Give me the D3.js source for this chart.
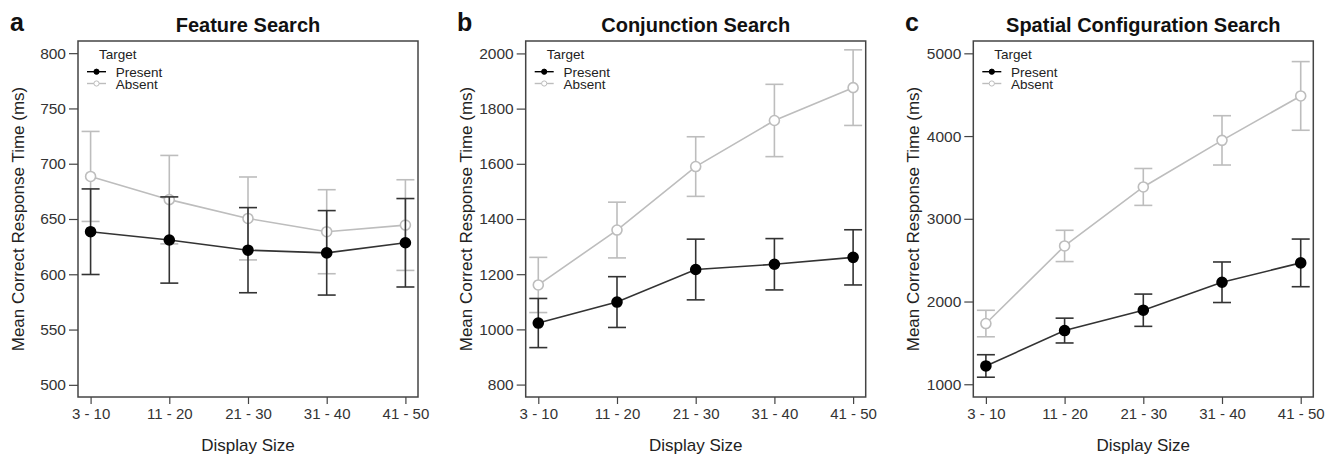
<!DOCTYPE html>
<html><head><meta charset="utf-8">
<script src="https://cdn.jsdelivr.net/npm/d3@7"></script>
<style>body{margin:0;background:#fff}svg{display:block;font-family:"Liberation Sans",Arial,sans-serif}</style>
</head><body><svg id="c" width="1336" height="454"></svg>
<script>
const categories = ["3 - 10","11 - 20","21 - 30","31 - 40","41 - 50"];
const panelLetters = ["a","b","c"];
const panelTitles = ["Feature Search","Conjunction Search","Spatial Configuration Search"];
const featurePresent = [638.5, 631, 621.8, 619.4, 628.5];
const featurePresentErr = [38.7, 39, 38.5, 38.2, 40];
const featureAbsent = [688.5, 667.5, 650.5, 638.5, 644.5];
const featureAbsentErr = [40.7, 40, 37.5, 38, 41];
const conjPresent = [1023, 1099, 1217, 1236, 1261];
const conjPresentErr = [89, 92, 110, 93, 100];
const conjAbsent = [1161, 1360, 1590, 1757, 1876];
const conjAbsentErr = [100, 101, 108, 131, 137];
const spatialPresent = [1221, 1649, 1895, 2233, 2467];
const spatialPresentErr = [136, 150, 195, 245, 288];
const spatialAbsent = [1734, 2672, 3385, 3948, 4485];
const spatialAbsentErr = [160, 189, 223, 298, 415];
const featureTicks = [500,550,600,650,700,750,800];
const conjTicks = [800,1000,1200,1400,1600,1800,2000];
const spatialTicks = [1000,2000,3000,4000,5000];
const yDomains = [[489,811],[755,2045],[846,5149]];
const legendLabels = ["Present","Absent"];

const panels = [
  {present:featurePresent, pErr:featurePresentErr, absent:featureAbsent, aErr:featureAbsentErr, ticks:featureTicks, left:78, letterX:10},
  {present:conjPresent, pErr:conjPresentErr, absent:conjAbsent, aErr:conjAbsentErr, ticks:conjTicks, left:525.7, letterX:457},
  {present:spatialPresent, pErr:spatialPresentErr, absent:spatialAbsent, aErr:spatialAbsentErr, ticks:spatialTicks, left:973.3, letterX:905}
];
const W = 340, plotTop = 41, plotBottom = 397;
const svg = d3.select("#c");
const dark = "#333", light = "#bdbdbd", txt = "#222";

panels.forEach((p, i) => {
  const g = svg.append("g");
  const x = d3.scalePoint().domain(categories).range([p.left, p.left + W]).padding(0.16);
  const y = d3.scaleLinear().domain(yDomains[i]).range([plotBottom, plotTop]);

  const ya = g.append("g").attr("transform", `translate(${p.left},0)`)
    .call(d3.axisLeft(y).tickValues(p.ticks).tickSize(9).tickPadding(3).tickFormat(d3.format("d")));
  ya.select(".domain").remove();
  ya.selectAll("line").attr("stroke", "#444").attr("stroke-width", 1.2);
  ya.selectAll("text").attr("font-size", 15.5).attr("fill", "#333").attr("font-family", "Liberation Sans, Arial, sans-serif");

  const xa = g.append("g").attr("transform", `translate(0,${plotBottom})`)
    .call(d3.axisBottom(x).tickSize(7).tickPadding(4));
  xa.select(".domain").remove();
  xa.selectAll("line").attr("stroke", "#444").attr("stroke-width", 1.2);
  xa.selectAll("text").attr("font-size", 15).attr("fill", "#333").attr("font-family", "Liberation Sans, Arial, sans-serif");

  g.append("rect").attr("x", p.left).attr("y", plotTop).attr("width", W).attr("height", plotBottom - plotTop)
    .attr("fill", "none").attr("stroke", "#444").attr("stroke-width", 1.5);

  g.append("text").attr("x", p.left + W/2).attr("y", 32).attr("text-anchor", "middle")
    .attr("font-size", 20).attr("font-weight", "bold").attr("fill", "#111").text(panelTitles[i]);
  g.append("text").attr("x", p.letterX).attr("y", 31).attr("font-size", 25).attr("font-weight", "bold")
    .attr("fill", "#111").text(panelLetters[i]);
  g.append("text").attr("x", p.left + W/2).attr("y", 451).attr("text-anchor", "middle")
    .attr("font-size", 17).attr("fill", txt).text("Display Size");
  g.append("text").attr("transform", `translate(${p.left - 54},${(plotTop+plotBottom)/2}) rotate(-90)`)
    .attr("text-anchor", "middle").attr("font-size", 17).attr("fill", txt).text("Mean Correct Response Time (ms)");

  const series = [
    {vals:p.absent, err:p.aErr, color:light, fill:"#fff"},
    {vals:p.present, err:p.pErr, color:dark, fill:"#000"}
  ];
  series.forEach(s => {
    const line = d3.line().x((d,j) => x(categories[j])).y(d => y(d));
    g.append("path").datum(s.vals).attr("d", line).attr("fill", "none").attr("stroke", s.color).attr("stroke-width", 1.6);
    const eb = g.append("g");
    s.vals.forEach((v, j) => {
      const cx = x(categories[j]);
      const hi = y(v + s.err[j]), lo = y(v - s.err[j]);
      eb.append("line").attr("x1", cx).attr("x2", cx).attr("y1", hi).attr("y2", lo).attr("stroke", s.color).attr("stroke-width", 1.6);
      eb.append("line").attr("x1", cx-9).attr("x2", cx+9).attr("y1", hi).attr("y2", hi).attr("stroke", s.color).attr("stroke-width", 1.6);
      eb.append("line").attr("x1", cx-9).attr("x2", cx+9).attr("y1", lo).attr("y2", lo).attr("stroke", s.color).attr("stroke-width", 1.6);
    });
    g.append("g").selectAll("circle").data(s.vals).join("circle")
      .attr("cx", (d,j) => x(categories[j])).attr("cy", d => y(d)).attr("r", 5)
      .attr("fill", s.fill).attr("stroke", s.fill === "#000" ? "#000" : light).attr("stroke-width", 1.6);
  });

  const lg = g.append("g").attr("transform", `translate(${p.left},0)`);
  lg.append("text").attr("x", 21).attr("y", 59).attr("font-size", 13.5).attr("fill", txt).text("Target");
  legendLabels.forEach((lab, k) => {
    const ly = 71.7 + k*11.8;
    const col = k === 0 ? "#000" : light;
    lg.append("line").attr("x1", 9).attr("x2", 28).attr("y1", ly).attr("y2", ly).attr("stroke", col).attr("stroke-width", 1.4);
    lg.append("circle").attr("cx", 18.5).attr("cy", ly).attr("r", 2.6).attr("fill", k === 0 ? "#000" : "#fff").attr("stroke", col).attr("stroke-width", 1);
    lg.append("text").attr("x", 37.7).attr("y", ly + 5).attr("font-size", 13.5).attr("fill", txt).text(lab);
  });
});
</script></body></html>
